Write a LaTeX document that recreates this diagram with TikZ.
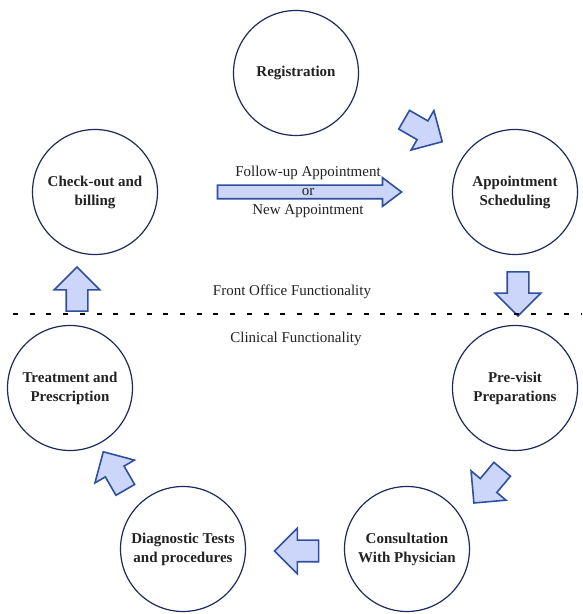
\documentclass[tikz,border=0pt]{standalone}
\usepackage{fontspec}
\setmainfont{Liberation Serif}
\usetikzlibrary{shapes.arrows}
\definecolor{circline}{HTML}{1F2A5C}
\definecolor{arrline}{HTML}{2F4F9F}
\definecolor{arrfill}{HTML}{CCD6FA}
\definecolor{txt}{HTML}{222222}
\begin{document}
\begin{tikzpicture}
[x=1pt,y=1pt,
every node/.style={text=txt,font=\fontsize{15}{19}\selectfont},
stage/.style={circle,draw=circline,line width=1.2pt,minimum size=125pt,inner sep=0pt,align=center,font=\fontsize{15}{19}\selectfont\bfseries},
blockarr/.style={single arrow,draw=arrline,fill=arrfill,line width=1.6pt,minimum height=44pt,minimum width=44pt,
  single arrow head extend=12pt,single arrow tip angle=90,inner xsep=0pt,inner ysep=10pt}]
\useasboundingbox (0,0) rectangle (582,614);
%%
\node[stage] (reg) at (296,541) {Registration};
\node[stage] (appt) at (515,422) {Appointment\\Scheduling};
\node[stage] (check) at (95,422) {Check-out and\\billing};
\node[stage] (pre) at (515,226) {Pre-visit\\Preparations};
\node[stage] (treat) at (70,226) {Treatment and\\Prescription};
\node[stage] (consult) at (407,65) {Consultation\\With Physician};
\node[stage] (diag) at (183,65) {Diagnostic Tests\\and procedures};
%%
\node[blockarr,rotate=-30] (a1) at (418.5,486) {};
\node[blockarr,rotate=-90] (a2) at (518,325.5) {};
\node[blockarr,rotate=-130] (a3) at (491.5,132) {};
\node[blockarr,rotate=180] (a4) at (302,63) {};
\node[blockarr,rotate=120] (a5) at (117,138.5) {};
\node[blockarr,rotate=90] (a6) at (77,319.5) {};
%%
\node[blockarr,minimum height=184pt,minimum width=27pt,single arrow head extend=7.5pt,single arrow tip angle=74,inner ysep=6pt] (fu) at (305,422) {};
\node[align=center] (fulabel) at ([xshift=3pt]fu.center) {Follow-up Appointment\\or\\New Appointment};
%%
\coordinate (dl) at (13,300);
\coordinate (dr) at (582,300);
\draw[line width=2.5pt,dash pattern=on 5pt off 11.7pt] (dl) -- (dr);
\node (front) at (292,322) {Front Office Functionality};
\node (clin) at (296,275) {Clinical Functionality};
\end{tikzpicture}
\end{document}
